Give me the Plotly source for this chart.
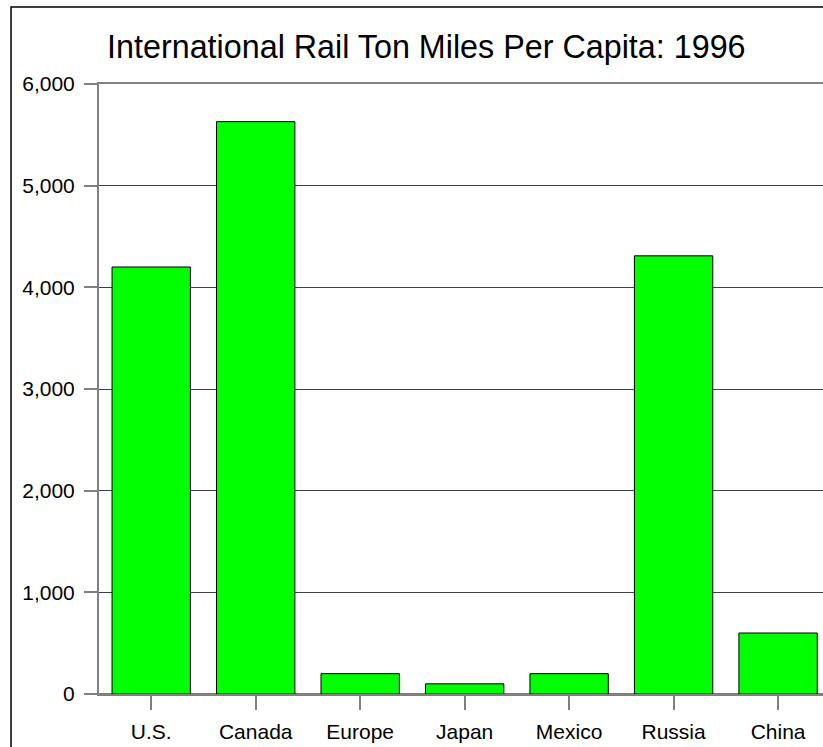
import plotly.graph_objects as go

# ---------------------------
# Données
# ---------------------------
pays = ["U.S.", "Canada", "Europe", "Japan", "Mexico", "Russia", "China"]
ton_miles = [4200, 5630, 200, 100, 200, 4310, 600]
y_ticks = [0, 1000, 2000, 3000, 4000, 5000, 6000]
y_labels = ["0", "1,000", "2,000", "3,000", "4,000", "5,000", "6,000"]

titre = "International Rail Ton Miles Per Capita: 1996"
police = "Arial, Liberation Sans, sans-serif"

fig = go.Figure()
fig.add_trace(go.Bar(
    x=pays,
    y=ton_miles,
    width=0.75,
    marker=dict(color="#00FF00", line=dict(color="black", width=1)),
    hovertemplate="%{x}: %{y:,}<extra></extra>",
))

fig.update_layout(
    width=823,
    height=747,
    margin=dict(l=99, r=0, t=84, b=53),
    paper_bgcolor="white",
    plot_bgcolor="white",
    showlegend=False,
    font=dict(family=police, size=21, color="black"),
    title=dict(
        text=titre,
        x=0.518, xref="container", xanchor="center",
        y=0.937, yref="container", yanchor="middle",
        font=dict(family=police, size=32.3, color="black"),
    ),
    xaxis=dict(
        range=[-0.5, 6.43],
        showgrid=False,
        showline=True,
        mirror=True,  # ligne du haut (6 000)
        linecolor="#808080",
        linewidth=2,
        ticks="outside",
        ticklen=14,
        tickcolor="#808080",
        tickwidth=1.5,
        ticklabelstandoff=4,
        tickfont=dict(size=21),
    ),
    yaxis=dict(
        range=[0, 6000],
        tickvals=y_ticks,
        ticktext=y_labels,
        showgrid=True,
        gridcolor="#404040",
        gridwidth=1,
        zeroline=True,
        zerolinecolor="#808080",
        zerolinewidth=2,
        showline=True,
        linecolor="#808080",
        linewidth=2,
        ticks="outside",
        ticklen=13,
        tickcolor="#808080",
        tickwidth=1.5,
        ticklabelstandoff=5,
        tickfont=dict(size=21),
    ),
)

# Cadre noir autour du graphique (coupé à droite et en bas)
fig.add_shape(
    type="rect", xref="paper", yref="paper",
    x0=-0.1215, x1=1.5, y0=-0.5, y1=1.1262,
    line=dict(color="black", width=1.5),
)

# pas de marge autour de la page, pas de barre d'outils
fig.write_html(
    "out.html",
    config={"displayModeBar": False},
    post_script="document.body.style.margin='0';",
)
